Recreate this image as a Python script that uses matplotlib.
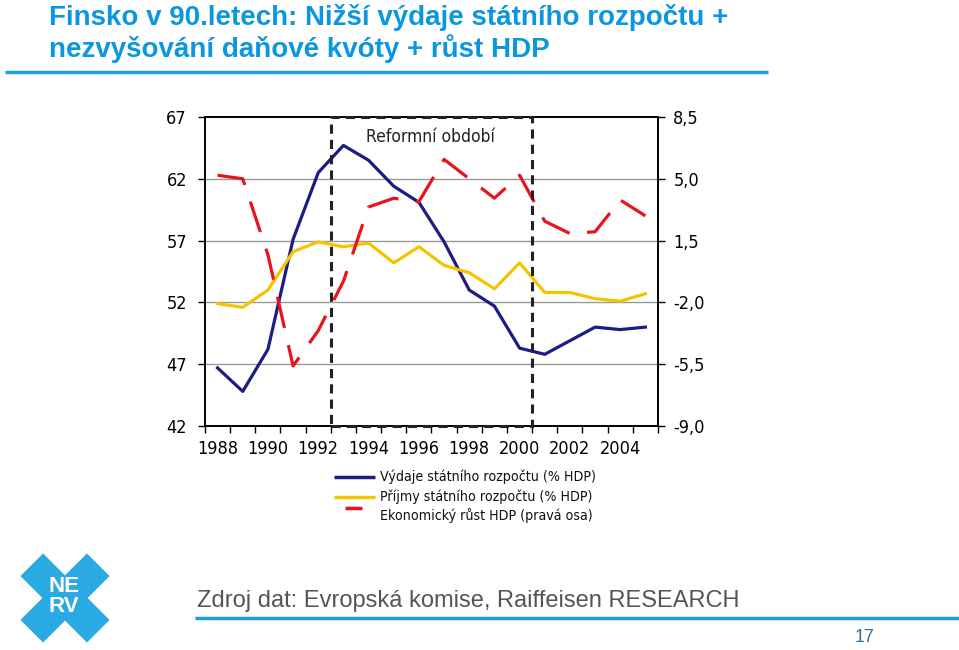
import matplotlib
matplotlib.use('Agg')
import matplotlib.pyplot as plt
import matplotlib.patches as mpatches
from matplotlib import font_manager
import numpy as np

# data
years = list(range(1988, 2006))
spending = [46.7, 44.8, 48.2, 57.1, 62.5, 64.7, 63.5, 61.4, 60.1, 56.9,
            53.0, 51.7, 48.3, 47.8, 48.9, 50.0, 49.8, 50.0]
revenue = [51.9, 51.6, 53.0, 56.1, 56.9, 56.5, 56.8, 55.2, 56.5, 55.0,
           54.4, 53.1, 55.2, 52.8, 52.8, 52.3, 52.1, 52.7]
gdp_growth = [5.2, 5.0, 0.7, -5.6, -3.6, -0.8, 3.4, 3.9, 3.7, 6.1,
              5.0, 3.9, 5.2, 2.6, 1.9, 2.0, 3.8, 2.9]
left_ticks = [42, 47, 52, 57, 62, 67]
right_ticks = [-9.0, -5.5, -2.0, 1.5, 5.0, 8.5]
reform_start, reform_end = 4.5, 12.5

BLUE_T = '#0b96e0'

# look for a condensed face for the axis labels
narrow = None
for f in font_manager.fontManager.ttflist:
    if f.stretch in ('condensed', 'semi-condensed', 'extra-condensed') or \
            'Narrow' in f.name or 'Condensed' in f.name:
        if f.style == 'normal' and f.weight in (400, 'normal', 'regular'):
            narrow = f
            break


def nfont(size):
    if narrow is not None:
        return dict(fontproperties=font_manager.FontProperties(fname=narrow.fname, size=size))
    return dict(family='DejaVu Sans', fontsize=size * 0.85)


fig = plt.figure(figsize=(9.59, 6.5), dpi=100)

# decoration layer in pixel coordinates
deco = fig.add_axes([0, 0, 1, 1], zorder=-1)
deco.set_xlim(0, 959)
deco.set_ylim(650, 0)
deco.axis('off')

deco.text(49, 25, "Finsko v 90.letech: Nižší výdaje státního rozpočtu +",
          fontsize=20, fontweight='bold', color=BLUE_T, va='baseline',
          family='Liberation Sans')
deco.text(49, 57, "nezvyšování daňové kvóty + růst HDP",
          fontsize=20, fontweight='bold', color=BLUE_T, va='baseline',
          family='Liberation Sans')
deco.plot([5, 768], [71.5, 71.5], color='#1ba1e2', lw=2.5, solid_capstyle='butt')

# footer
deco.text(197, 601, "Zdroj dat: Evropská komise, Raiffeisen RESEARCH",
          fontsize=17, color='#555555', va='center', family='Liberation Sans')
deco.plot([195, 959], [618, 618], color='#1ba1e2', lw=2.5, solid_capstyle='butt')
deco.text(865, 637, "17", fontsize=13, color='#2f6f9f', ha='center', va='center',
          family='Liberation Sans')

# NERV logo
cx, cy, half, w = 65, 598, 47, 32
for dx, dy in [(1, 1), (1, -1)]:
    d = np.array([dx, dy]) / np.sqrt(2)
    n = np.array([-d[1], d[0]])
    c = np.array([cx, cy])
    pts = [c - d * half - n * w / 2, c + d * half - n * w / 2,
           c + d * half + n * w / 2, c - d * half + n * w / 2]
    deco.add_patch(mpatches.Polygon(pts, closed=True, fc='#29aae2', ec='none'))
deco.text(64, 586, "NE", fontsize=16, fontweight='bold', color='white',
          ha='center', va='center', family='Liberation Sans')
deco.text(64, 606.5, "RV", fontsize=16, fontweight='bold', color='white',
          ha='center', va='center', family='Liberation Sans')

# main chart
ax = fig.add_axes([205 / 959, 1 - 426 / 650, 453 / 959, 309 / 650])
x = np.arange(len(years))
ax.plot(x, spending, color='#1c1c84', lw=2.3, zorder=3)
ax.plot(x, revenue, color='#f5c400', lw=2.3, zorder=3)
ax.set_ylim(42, 67)
ax.set_xlim(-0.5, len(years) - 0.5)
ax.set_yticks(left_ticks)
ax.set_yticklabels([str(t) for t in left_ticks], **nfont(13))
for t in left_ticks[1:-1]:
    ax.axhline(t, color='#999999', lw=1, zorder=1)

ax.set_xticks(np.arange(-0.5, len(years), 1))
ax.set_xticklabels([])
ax.set_xticks(x[:-1:2], minor=True)
ax.set_xticklabels([str(y) for y in years[:-1:2]], minor=True, **nfont(13))
ax.tick_params(axis='x', which='major', direction='out', length=5, width=1)
ax.tick_params(axis='x', which='minor', length=0, pad=10)
ax.tick_params(axis='y', direction='out', length=5, width=1, pad=8)
for s in ax.spines.values():
    s.set_color('black')
    s.set_linewidth(1.2)

ax2 = ax.twinx()
ax2.plot(x, gdp_growth, color='#e8141c', lw=2.3, linestyle=(0, (10, 5.5)),
         zorder=3)
ax2.set_ylim(-9.0, 8.5)
ax2.set_yticks(right_ticks)
ax2.set_yticklabels([f"{t:.1f}".replace('.', ',') for t in right_ticks],
                    **nfont(13))
ax2.tick_params(axis='y', direction='out', length=5, width=1, pad=6)
for s in ax2.spines.values():
    s.set_linewidth(1.2)

# reform period box
box = mpatches.Rectangle((reform_start, 0), reform_end - reform_start, 1,
                         transform=ax2.get_xaxis_transform(), fill=False,
                         ec='#222222', lw=2.2, linestyle=(0, (3, 2)),
                         clip_on=False, zorder=5)
ax2.add_patch(box)
ax2.text((reform_start + reform_end) / 2 - 0.05, 0.935, "Reformní období",
         transform=ax2.get_xaxis_transform(), ha='center', va='center',
         color='#222222', **nfont(12.5))

# legend drawn below the chart
legend_items = [("Výdaje státního rozpočtu (% HDP)", '#1c1c84', 334, 375),
                ("Příjmy státního rozpočtu (% HDP)", '#f5c400', 334, 375),
                ("Ekonomický růst HDP (pravá osa)", '#e8141c', 345, 362)]
for i, (label, col, x0, x1) in enumerate(legend_items):
    yy = 477 + i * 19.5
    deco.plot([x0, x1], [yy - (8 if i == 2 else 0)] * 2, color=col, lw=2.5,
              solid_capstyle='butt')
    deco.text(380, yy, label, va='center', color='#111111', **nfont(10.2))

fig.savefig('out.png', dpi=100)
